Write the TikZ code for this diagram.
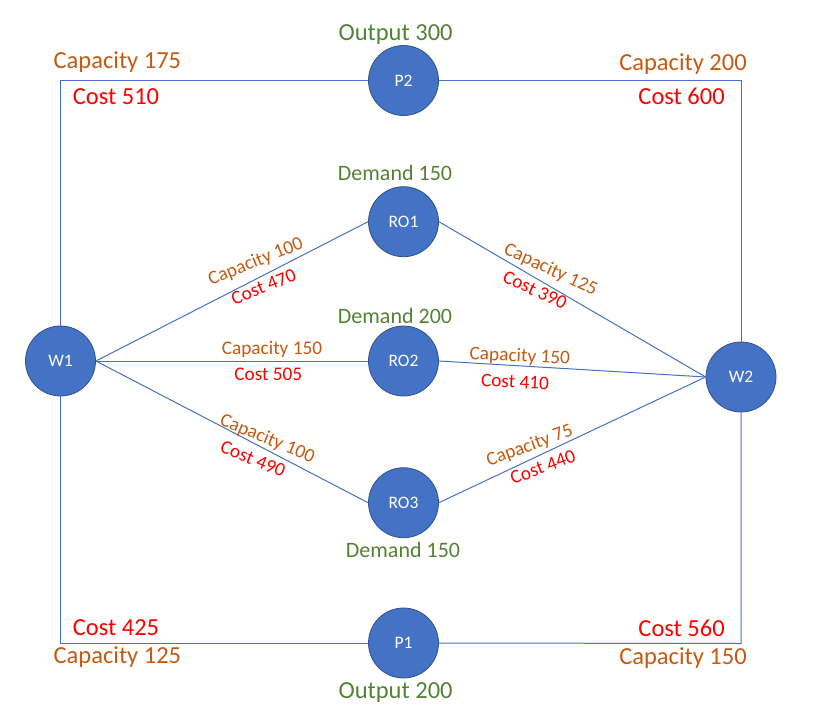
\documentclass[tikz,border=0pt]{standalone}
\usepackage{fontspec}
\setmainfont{Carlito}
\definecolor{nodeblue}{HTML}{4472C4}
\definecolor{nodeedge}{HTML}{2F528F}
\definecolor{capcol}{HTML}{C55A11}
\definecolor{costcol}{HTML}{FF0000}
\definecolor{demcol}{HTML}{548235}
\tikzset{
  site/.style={circle, fill=nodeblue, draw=nodeedge, line width=0.8pt, minimum size=70pt, inner sep=0pt, text=white, font=\fontsize{17.5}{20}\selectfont},
  link/.style={draw=nodeblue, line width=1pt},
  bigcap/.style={text=capcol, font=\fontsize{24.5}{28}\selectfont, inner sep=0pt},
  bigcost/.style={text=costcol, font=\fontsize{24.5}{28}\selectfont, inner sep=0pt},
  bigdem/.style={text=demcol, font=\fontsize{24.5}{28}\selectfont, inner sep=0pt},
  middem/.style={text=demcol, font=\fontsize{22}{26}\selectfont, inner sep=0pt},
  smallcap/.style={text=capcol, font=\fontsize{19.3}{22}\selectfont, inner sep=0pt},
  smallcost/.style={text=costcol, font=\fontsize{19.3}{22}\selectfont, inner sep=0pt},
}
\begin{document}
\begin{tikzpicture}[x=1pt,y=-1pt]
\useasboundingbox (0,0) rectangle (817,718);
% nodes
\node[site] (W1) at (60.5,361) {W1};
\node[site] (W2) at (741,377) {W2};
\node[site] (P2) at (403.5,80.5) {P2};
\node[site] (RO1) at (403.5,221.7) {RO1};
\node[site] (RO2) at (403.5,361) {RO2};
\node[site] (RO3) at (403.5,502.7) {RO3};
\node[site] (P1) at (403.5,643) {P1};
% frame corners
\coordinate (TL) at (60.5,80.5);
\coordinate (TR) at (741,80.5);
\coordinate (BL) at (60.5,643);
\coordinate (BR) at (741,643.5);
% connectors
\draw[link] (W1.north) -- (TL) -- (P2.west);
\draw[link] (P2.east) -- (TR) -- (W2.north);
\draw[link] (W1.south) -- (BL) -- (P1.west);
\draw[link] (P1.east) -- (BR) -- (W2.south);
\draw[link] (W1.east) -- (RO1.west);
\draw[link] (W1.east) -- (RO2.west);
\draw[link] (W1.east) -- (RO3.west);
\draw[link] (RO1.east) -- (W2.west);
\draw[link] (RO2.east) -- (W2.west);
\draw[link] (RO3.east) -- (W2.west);
% big labels
\node[bigdem] (o300) at (395.6,34.5) {Output 300};
\node[bigcap] (c175) at (117.4,61.7) {Capacity 175};
\node[bigcost] (k510) at (116,96.7) {Cost 510};
\node[bigcap] (c200) at (683,64.3) {Capacity 200};
\node[bigcost] (k600) at (681.6,96.7) {Cost 600};
\node[middem] (d150a) at (395,173.3) {Demand 150};
\node[middem] (d200) at (395,316) {Demand 200};
\node[middem] (d150b) at (403,550) {Demand 150};
\node[bigcost] (k425) at (116,628) {Cost 425};
\node[bigcap] (c125) at (117.4,656.7) {Capacity 125};
\node[bigcost] (k560) at (681.6,628) {Cost 560};
\node[bigcap] (c150b) at (683,658) {Capacity 150};
\node[bigdem] (o200) at (395.6,693) {Output 200};
% edge labels
\node[smallcap, rotate=22.1] (e1c) at (255.7,262) {Capacity 100};
\node[smallcost, rotate=22.1] (e1k) at (263.6,286.7) {Cost 470};
\node[smallcap] (e2c) at (272,349.3) {Capacity 150};
\node[smallcost] (e2k) at (268.3,374.3) {Cost 505};
\node[smallcap, rotate=-22.4] (e3c) at (267.2,439) {Capacity 100};
\node[smallcost, rotate=-22.4] (e3k) at (253,459) {Cost 490};
\node[smallcap, rotate=-24.7] (e4c) at (550.6,270) {Capacity 125};
\node[smallcost, rotate=-24.7] (e4k) at (535,290) {Cost 390};
\node[smallcap, rotate=-2.7] (e5c) at (519.8,356.7) {Capacity 150};
\node[smallcost, rotate=-2.7] (e5k) at (515,381.7) {Cost 410};
\node[smallcap, rotate=20.4] (e6c) at (529.7,446) {Capacity 75};
\node[smallcost, rotate=20.4] (e6k) at (542.8,467) {Cost 440};
\end{tikzpicture}
\end{document}
